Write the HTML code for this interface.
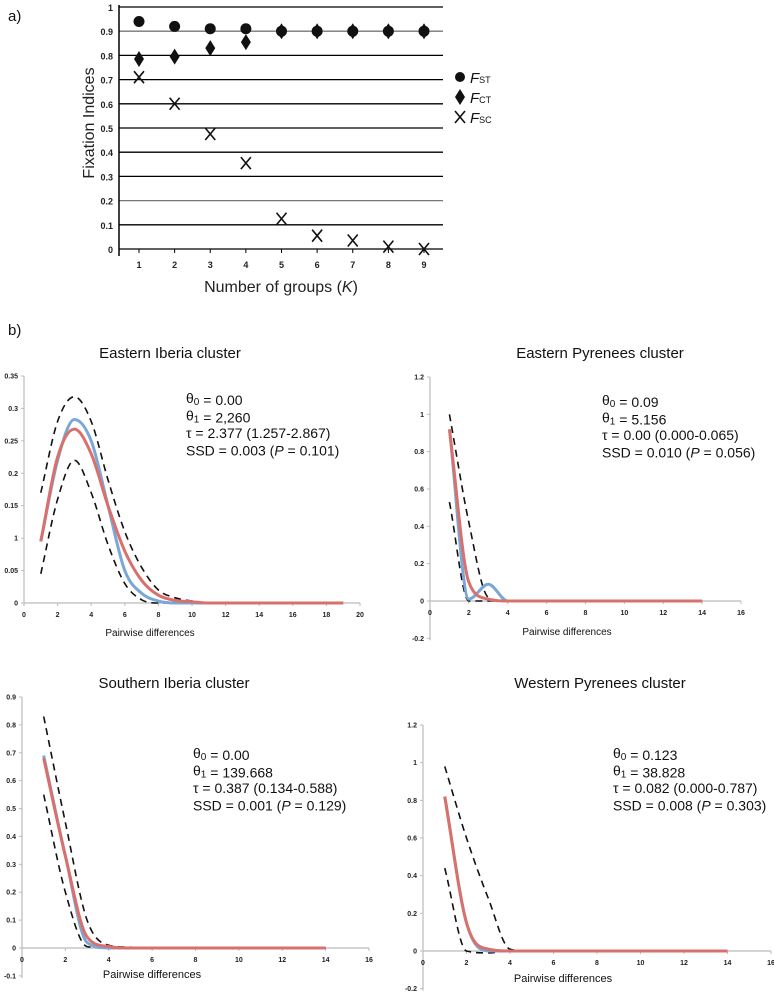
<!DOCTYPE html>
<html><head><meta charset="utf-8"><style>
body{margin:0;background:#fff}
svg{display:block;font-family:"Liberation Sans",Arial,sans-serif}
.tk{font-size:7px;font-weight:bold;fill:#222}
.ann{font-size:14px;fill:#111}
</style></head><body>
<svg id="s" width="774" height="992" viewBox="0 0 774 992"></svg>
<script>
// ---- panel a data ----
const kGroups=[1,2,3,4,5,6,7,8,9];
const fstValues=[0.94,0.92,0.91,0.91,0.90,0.90,0.90,0.90,0.90];
const fctValues=[0.785,0.795,0.83,0.855,0.90,0.90,0.90,0.90,0.90];
const fscValues=[0.71,0.60,0.475,0.355,0.125,0.055,0.035,0.01,0.0];
const aYTicks=[0,0.1,0.2,0.3,0.4,0.5,0.6,0.7,0.8,0.9,1];
// ---- panel b data ----
const eiObs=[0.095,0.22,0.283,0.25,0.15,0.05,0.015,0.003,0,0,0,0,0,0,0,0,0,0,0];
const eiSim=[0.095,0.225,0.268,0.23,0.15,0.08,0.035,0.012,0.004,0.002,0,0,0,0,0,0,0,0,0];
const eiUp=[0.17,0.28,0.318,0.28,0.19,0.11,0.055,0.02,0.008,0.003,0,0,0,0];
const eiLo=[0.045,0.16,0.22,0.17,0.09,0.03,0.005,0,0,0,0,0,0,0];
const eiYTicks=[0,0.05,0.1,0.15,0.2,0.25,0.3,0.35];
const eiYLabels=["0","0.05","1","0.15","0.2","0.25","0.3","0.35"];
const eiXTicks=[0,2,4,6,8,10,12,14,16,18,20];
const epObs=[0.92,0.01,0.09,0,0,0,0,0,0,0,0,0,0,0];
const epSim=[0.92,0.1,0.01,0,0,0,0,0,0,0,0,0,0,0];
const epUp=[1.0,0.42,0.02,0,0,0,0,0,0,0,0,0,0,0];
const epLo=[0.53,0,0,0,0,0,0,0,0,0,0,0,0,0];
const epYTicks=[-0.2,0,0.2,0.4,0.6,0.8,1,1.2];
const siObs=[0.69,0.33,0.02,0,0,0,0,0,0,0,0,0,0,0];
const siSim=[0.68,0.33,0.04,0.005,0,0,0,0,0,0,0,0,0,0];
const siUp=[0.83,0.45,0.1,0.01,0.003,0,0,0,0,0,0,0,0,0];
const siLo=[0.55,0.2,0.005,0,0,0,0,0,0,0,0,0,0,0];
const siYTicks=[-0.1,0,0.1,0.2,0.3,0.4,0.5,0.6,0.7,0.8,0.9];
const wpObs=[0.82,0.15,0.0,0,0,0,0,0,0,0,0,0,0,0];
const wpSim=[0.82,0.15,0.01,0,0,0,0,0,0,0,0,0,0,0];
const wpUp=[0.98,0.6,0.28,0.01,0,0,0,0,0,0,0,0,0,0];
const wpLo=[0.44,0,-0.01,0,0,0,0,0,0,0,0,0,0,0];
const wpYTicks=[-0.2,0,0.2,0.4,0.6,0.8,1,1.2];
const pyXTicks=[0,2,4,6,8,10,12,14,16];

const NS="http://www.w3.org/2000/svg";
const svg=document.getElementById('s');
function mk(tag,at,parent,txt){const e=document.createElementNS(NS,tag);for(const k in at)e.setAttribute(k,at[k]);if(txt!==undefined)e.textContent=txt;(parent||svg).appendChild(e);return e;}

// ---------- panel a ----------
const ga=mk('g',{});


const ax=v=>139+(v-1)*(424-139)/8;
const ay=v=>249-v*242;
aYTicks.forEach(t=>{
  const l=mk('line',{x1:119,x2:443,y1:ay(t),y2:ay(t),stroke:(t===0.9||t===0.2)?'#777':'#000','stroke-width':1.3},ga);
  
  
  const tx=mk('text',{x:113,y:ay(t)+4,'text-anchor':'end','font-size':'9','font-weight':'bold',fill:'#222'},ga,String(t));
  
  
});
mk('line',{x1:119,x2:119,y1:5,y2:256,stroke:'#000','stroke-width':1.5},ga);
kGroups.forEach(k=>{
  const t=mk('text',{x:ax(k),y:268,'text-anchor':'middle','font-size':'9','font-weight':'bold',fill:'#222'},ga,String(k));
  
  
  mk('line',{x1:ax(k),x2:ax(k),y1:249,y2:253,stroke:'#000'},ga);
});
kGroups.forEach((k,i)=>{
  const c=mk('circle',{cx:ax(k),cy:ay(fstValues[i]),r:5.5,fill:'#111'},ga);
  
  
  const x=ax(k),y=ay(fctValues[i]);
  const d=mk('polygon',{points:`${x},${y-8} ${x+5},${y} ${x},${y+8} ${x-5},${y}`,fill:'#111'},ga);
  
  
  const y2=ay(fscValues[i]);
  const xx=mk('path',{d:`M${x-5},${y2-6}L${x+5},${y2+6}M${x+5},${y2-6}L${x-5},${y2+6}`,stroke:'#111','stroke-width':1.6,fill:'none'},ga);
  
  
});
mk('text',{x:8,y:21,'font-size':'15',fill:'#111'},ga,'a)');
const yt=mk('text',{x:0,y:0,transform:'translate(94,123) rotate(-90)','text-anchor':'middle','font-size':'16',fill:'#222'},ga,'Fixation Indices');

const xt=mk('text',{x:281,y:292,'text-anchor':'middle','font-size':'16',fill:'#222'},ga);

xt.innerHTML='Number of groups (<tspan font-style="italic">K</tspan>)';
// legend
const lg=mk('g',{},ga);


mk('circle',{cx:460,cy:77,r:5,fill:'#111'},lg);
mk('polygon',{points:'460,89 465,97 460,105 455,97',fill:'#111'},lg);
mk('path',{d:'M455,111L465,123M465,111L455,123',stroke:'#111','stroke-width':1.6},lg);
[['ST',83],['CT',103],['SC',123]].forEach(([s,y])=>{
  const t=mk('text',{x:470,y:y,'font-size':'15',fill:'#111'},lg);
  t.innerHTML=`<tspan font-style="italic">F</tspan><tspan font-size="9">${s}</tspan>`;
  
  
});

mk('text',{x:8,y:335,'font-size':'15',fill:'#111'},null,'b)');

// ---------- mismatch panels ----------
// monotone cubic (Fritsch-Carlson) to avoid overshoot
function curve(arr,sx,sy){
  const n=arr.length,xs=arr.map((v,i)=>i+1);
  const dl=[];for(let i=0;i<n-1;i++)dl.push(arr[i+1]-arr[i]);
  const m=new Array(n);
  m[0]=dl[0];m[n-1]=dl[n-2];
  for(let i=1;i<n-1;i++){m[i]=(dl[i-1]*dl[i]<=0)?0:(dl[i-1]+dl[i])/2;}
  for(let i=0;i<n-1;i++){
    if(dl[i]===0){m[i]=0;m[i+1]=0;continue;}
    const a=m[i]/dl[i],b=m[i+1]/dl[i],h=a*a+b*b;
    if(h>9){const t=3/Math.sqrt(h);m[i]=t*a*dl[i];m[i+1]=t*b*dl[i];}
  }
  let d=`M${sx(xs[0])},${sy(arr[0])}`;
  for(let i=0;i<n-1;i++){
    d+=`C${sx(xs[i]+1/3)},${sy(arr[i]+m[i]/3)} ${sx(xs[i+1]-1/3)},${sy(arr[i+1]-m[i+1]/3)} ${sx(xs[i+1])},${sy(arr[i+1])}`;
  }
  return d;
}
function panel(o){
  const g=mk('g',{});
  
  
  const sx=v=>o.x0+v*(o.x1-o.x0)/o.xmax;
  const sy=v=>o.y0-v*(o.y0-o.yTop)/o.ymax;
  const ymin=o.yT[0];
  mk('line',{x1:o.x0,x2:o.x0,y1:sy(o.ymax),y2:sy(ymin)+2,stroke:'#bbb','stroke-width':1.2},g);
  mk('line',{x1:o.x0,x2:o.x1,y1:sy(0),y2:sy(0),stroke:'#bbb','stroke-width':1.2},g);
  o.yT.forEach((t,i)=>{
    mk('line',{x1:o.x0-3,x2:o.x0,y1:sy(t),y2:sy(t),stroke:'#bbb'},g);
    const tx=mk('text',{x:o.x0-6,y:sy(t)+2.5,'text-anchor':'end',class:'tk'},g,o.yL?o.yL[i]:String(t));
    
    
  });
  o.xT.forEach(t=>{
    mk('line',{x1:sx(t),x2:sx(t),y1:sy(0),y2:sy(0)+3,stroke:'#bbb'},g);
    const tx=mk('text',{x:sx(t),y:sy(0)+14,'text-anchor':'middle',class:'tk'},g,String(t));
    
    
  });
  const up=mk('path',{d:curve(o.up,sx,sy),fill:'none',stroke:'#111','stroke-width':1.6,'stroke-dasharray':'7,5'},g);
  
  
  const lo=mk('path',{d:curve(o.lo,sx,sy),fill:'none',stroke:'#111','stroke-width':1.6,'stroke-dasharray':'7,5'},g);
  
  
  const ob=mk('path',{d:curve(o.obs,sx,sy),fill:'none',stroke:'#7ba7d6','stroke-width':3},g);
  
  
  const sm=mk('path',{d:curve(o.sim,sx,sy),fill:'none',stroke:'#d9706c','stroke-width':3},g);
  
  
  mk('text',{x:o.tx,y:o.ty,'text-anchor':'middle','font-size':'15',fill:'#111'},g,o.title);
  const xl=mk('text',{x:o.xlx,y:o.xly,'text-anchor':'middle','font-size':o.xls,fill:'#111'},g,'Pairwise differences');
  
  
  o.ann.forEach((s,i)=>{
    const t=mk('text',{x:o.ax,y:o.ay+i*17.5,class:'ann'},g);
    t.innerHTML=s;
    
    
  });
}
const sub=n=>`<tspan font-size="10" dy="2">${n}</tspan><tspan dy="-2"></tspan>`;
panel({name:'eastern-iberia-chart',x0:24,x1:360,xmax:20,y0:603,yTop:376,ymax:0.35,yT:eiYTicks,yL:eiYLabels,xT:eiXTicks,
  obs:eiObs,sim:eiSim,up:eiUp,lo:eiLo,title:'Eastern Iberia cluster',tx:170,ty:358,xlx:150,xly:636,xls:10,
  ax:186,ay:403,ann:[`θ${sub(0)} = 0.00`,`θ${sub(1)} = 2,260`,'τ = 2.377 (1.257-2.867)','SSD = 0.003 (<tspan font-style="italic">P</tspan> = 0.101)']});
panel({name:'eastern-pyrenees-chart',x0:430,x1:741,xmax:16,y0:601,yTop:377,ymax:1.2,yT:epYTicks,xT:pyXTicks,
  obs:epObs,sim:epSim,up:epUp,lo:epLo,title:'Eastern Pyrenees cluster',tx:600,ty:358,xlx:567,xly:635,xls:10,
  ax:602,ay:405,ann:[`θ${sub(0)} = 0.09`,`θ${sub(1)} = 5.156`,'τ = 0.00 (0.000-0.065)','SSD = 0.010 (<tspan font-style="italic">P</tspan> = 0.056)']});
panel({name:'southern-iberia-chart',x0:22,x1:369,xmax:16,y0:948,yTop:697,ymax:0.9,yT:siYTicks,xT:pyXTicks,
  obs:siObs,sim:siSim,up:siUp,lo:siLo,title:'Southern Iberia cluster',tx:174,ty:688,xlx:152,xly:978,xls:11,
  ax:193,ay:758,ann:[`θ${sub(0)} = 0.00`,`θ${sub(1)} = 139.668`,'τ = 0.387 (0.134-0.588)','SSD = 0.001 (<tspan font-style="italic">P</tspan> = 0.129)']});
panel({name:'western-pyrenees-chart',x0:423,x1:771,xmax:16,y0:951,yTop:725,ymax:1.2,yT:wpYTicks,xT:pyXTicks,
  obs:wpObs,sim:wpSim,up:wpUp,lo:wpLo,title:'Western Pyrenees cluster',tx:600,ty:688,xlx:563,xly:982,xls:11,
  ax:613,ay:758,ann:[`θ${sub(0)} = 0.123`,`θ${sub(1)} = 38.828`,'τ = 0.082 (0.000-0.787)','SSD = 0.008 (<tspan font-style="italic">P</tspan> = 0.303)']});
</script>
</body></html>
